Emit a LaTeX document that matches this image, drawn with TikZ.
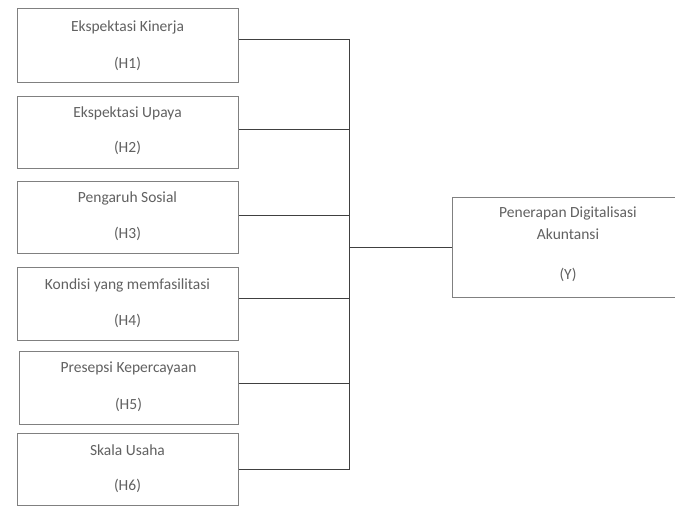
\documentclass[tikz,border=0pt]{standalone}
\usepackage{fontspec}
\setmainfont{Carlito}
\begin{document}
\begin{tikzpicture}[x=1pt,y=-1pt,
  vbox/.style={draw=black!50,line width=1.1pt,fill=white,rectangle,inner sep=0pt,anchor=north west},
  lbl/.style={text=black!62,font=\fontsize{15.5}{18}\selectfont,inner sep=0pt},
  conn/.style={draw=black!75,line width=1pt}]
\useasboundingbox (0,0) rectangle (675,510);
\clip (0,0) rectangle (675,510);
\fill[white] (0,0) rectangle (675,510);
% left boxes
\node[vbox,minimum width=221pt,minimum height=74pt] (b1) at (17,8) {};
\node[vbox,minimum width=221pt,minimum height=72pt] (b2) at (17,96) {};
\node[vbox,minimum width=221pt,minimum height=72pt] (b3) at (17,181) {};
\node[vbox,minimum width=221pt,minimum height=73pt] (b4) at (17,267) {};
\node[vbox,minimum width=219pt,minimum height=73pt] (b5) at (19,351) {};
\node[vbox,minimum width=221pt,minimum height=72pt] (b6) at (17,433) {};
% right box
\node[vbox,minimum width=232pt,minimum height=100pt] (y) at (452,197) {};
% labels
\node[lbl] (t1) at (127.5,27) {Ekspektasi Kinerja};
\node[lbl] (h1) at (127.5,64) {(H1)};
\node[lbl] (t2) at (127.5,113) {Ekspektasi Upaya};
\node[lbl] (h2) at (127.5,148) {(H2)};
\node[lbl] (t3) at (127.5,198) {Pengaruh Sosial};
\node[lbl] (h3) at (127.5,234) {(H3)};
\node[lbl] (t4) at (127.5,285) {Kondisi yang memfasilitasi};
\node[lbl] (h4) at (127.5,321) {(H4)};
\node[lbl] (t5) at (128.5,368) {Presepsi Kepercayaan};
\node[lbl] (h5) at (128.5,405) {(H5)};
\node[lbl] (t6) at (127.5,450) {Skala Usaha};
\node[lbl] (h6) at (127.5,486) {(H6)};
\node[lbl] (ty1) at (568,213) {Penerapan Digitalisasi};
\node[lbl] (ty2) at (568,234) {Akuntansi};
\node[lbl] (ty3) at (568,275) {(Y)};
% connectors
\coordinate (bt) at (349,40);
\coordinate (bb) at (349,470);
\draw[conn] (b1.east |- bt) -- (bt) -- (bb) -- (b6.east |- bb);
\draw[conn] (b2.east |- 0,130) -- (349,130);
\draw[conn] (b3.east |- 0,216) -- (349,216);
\draw[conn] (b4.east |- 0,299) -- (349,299);
\draw[conn] (b5.east |- 0,384) -- (349,384);
\draw[conn] (349,248) -- (y.west |- 0,248);
\end{tikzpicture}
\end{document}
